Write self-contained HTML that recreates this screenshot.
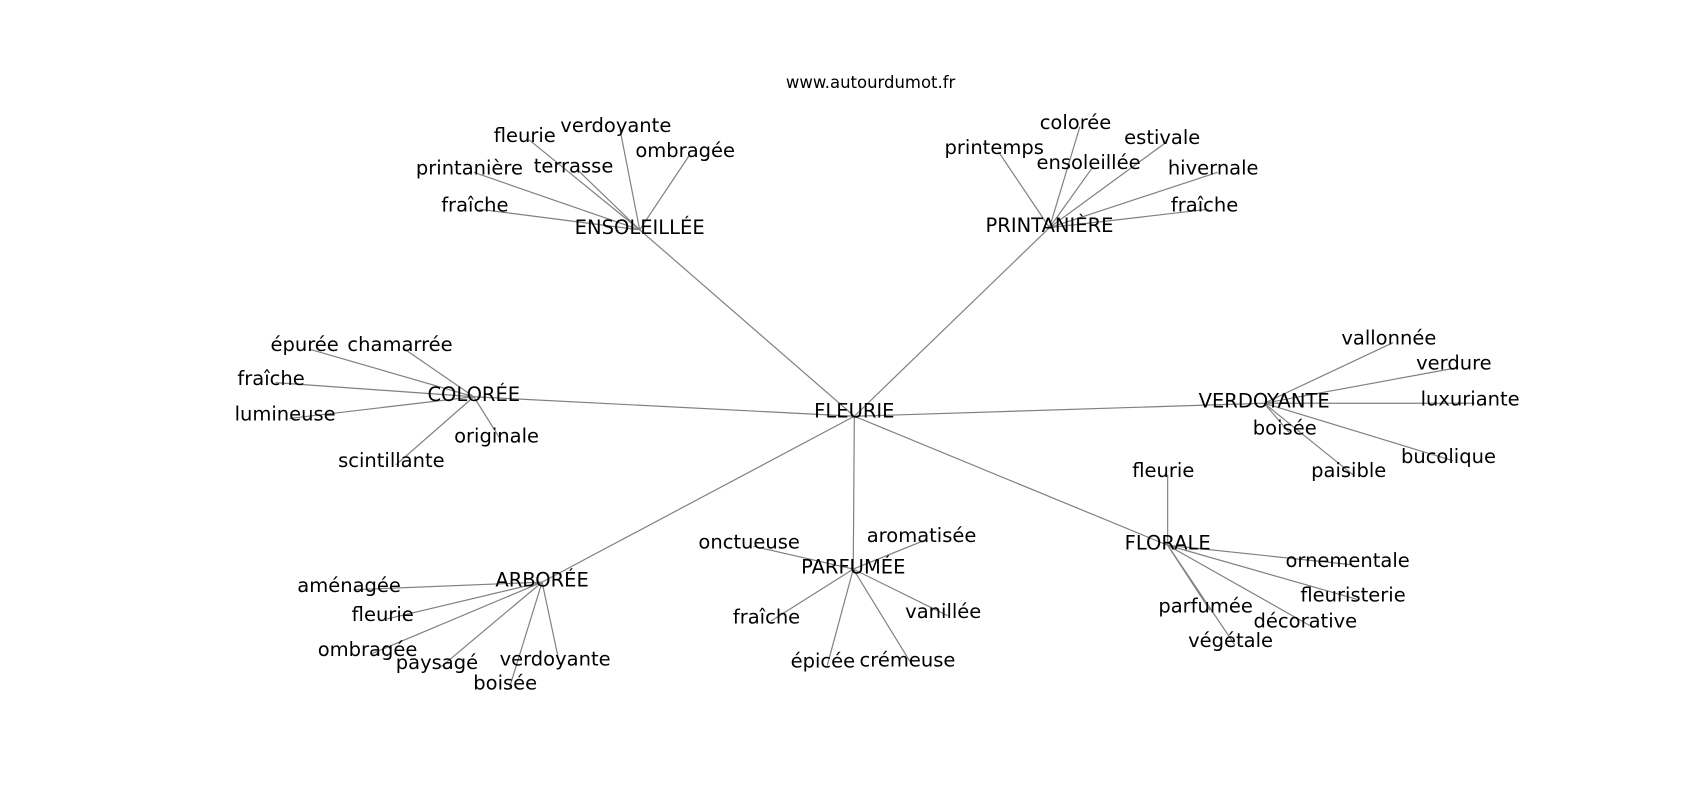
<!DOCTYPE html>
<html><head><meta charset="utf-8"><style>
html,body{margin:0;padding:0;background:#fff;}
svg{display:block;}
text{font-family:"DejaVu Sans","Liberation Sans",sans-serif;font-size:18px;fill:#000;text-anchor:middle;dominant-baseline:central;}
line{stroke:#808080;stroke-width:1.1;}
</style></head><body>
<svg width="1700" height="800" viewBox="0 0 1568 738" preserveAspectRatio="none" xmlns="http://www.w3.org/2000/svg">
<g id="e"></g>
<text x="803" y="76" style="font-size:15.2px">www.autourdumot.fr</text>
<g id="t"></g>
<script>
var groups=[
["FLEURIE",788,381,[]],
["ENSOLEILLÉE",590,212,[["fleurie",484,125],["verdoyante",568,116],["ombragée",632,139],["printanière",433,155],["terrasse",529,153],["fraîche",438,189]]],
["PRINTANIÈRE",968,210,[["colorée",992,113],["printemps",917,136],["estivale",1072,127],["ensoleillée",1004,150],["hivernale",1119,155],["fraîche",1111,189]]],
["COLORÉE",437,366,[["épurée",281,318],["chamarrée",369,318],["fraîche",250,349],["lumineuse",263,382],["originale",458,402],["scintillante",361,425]]],
["VERDOYANTE",1166,372,[["vallonnée",1281,312],["verdure",1341,335],["luxuriante",1356,368],["boisée",1185,395],["paisible",1244,434],["bucolique",1336,421]]],
["FLORALE",1077,503,[["fleurie",1073,434],["ornementale",1243,517],["fleuristerie",1248,549],["parfumée",1112,559],["décorative",1204,573],["végétale",1135,591]]],
["PARFUMÉE",787,525,[["onctueuse",691,500],["aromatisée",850,494],["fraîche",707,569],["vanillée",870,564],["épicée",759,610],["crémeuse",837,609]]],
["ARBORÉE",500,537,[["aménagée",322,540],["fleurie",353,567],["ombragée",339,599],["paysagé",403,611],["verdoyante",512,608],["boisée",466,630]]]
];
var NS="http://www.w3.org/2000/svg",E=document.getElementById("e"),T=document.getElementById("t");
function ln(a,b,c,d){var l=document.createElementNS(NS,"line");l.setAttribute("x1",a);l.setAttribute("y1",b);l.setAttribute("x2",c);l.setAttribute("y2",d);E.appendChild(l);}
function tx(s,x,y){var t=document.createElementNS(NS,"text");t.setAttribute("x",x);t.setAttribute("y",y);t.textContent=s;T.appendChild(t);}
var c=groups[0];
groups.forEach(function(g,i){
 if(i>0) ln(c[1],c[2]+3,g[1],g[2]);
 tx(g[0],g[1],g[2]-2);
 g[3].forEach(function(l){ln(g[1],g[2],l[1]+4,l[2]+4);tx(l[0],l[1],l[2]);});
});
</script>
</svg>
</body></html>
